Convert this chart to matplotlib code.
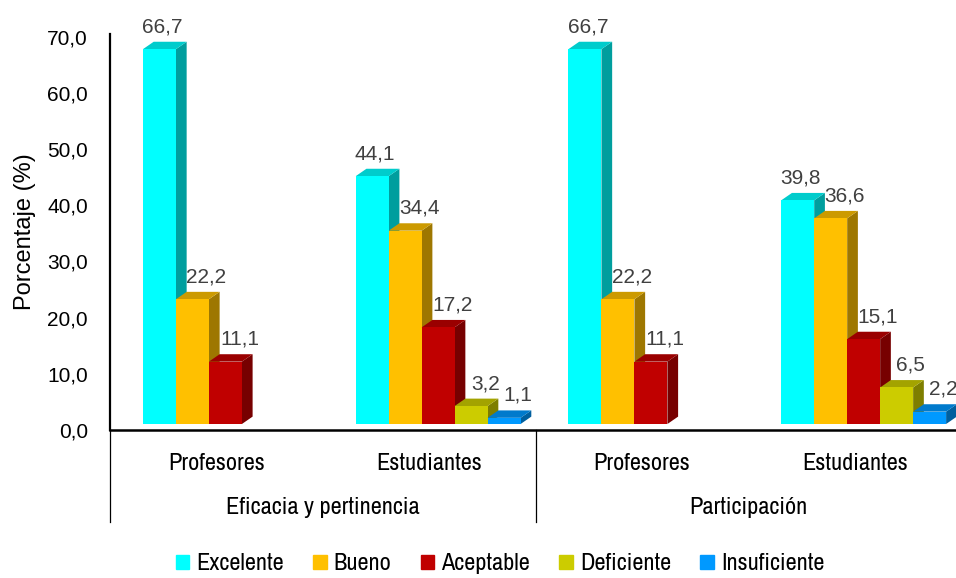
import numpy as np
import matplotlib
matplotlib.use("Agg")
import matplotlib.pyplot as plt
from matplotlib import font_manager as fm
from matplotlib.patches import Polygon, Patch
from matplotlib.transforms import ScaledTranslation, blended_transform_factory

# ---- datos ----
subgrupos = ["Profesores", "Estudiantes", "Profesores", "Estudiantes"]
dimensiones = ["Eficacia y pertinencia", "Participación"]
series = ["Excelente", "Bueno", "Aceptable", "Deficiente", "Insuficiente"]
excelente = [66.7, 44.1, 66.7, 39.8]
bueno = [22.2, 34.4, 22.2, 36.6]
aceptable = [11.1, 17.2, 11.1, 15.1]
deficiente = [np.nan, 3.2, np.nan, 6.5]
insuficiente = [np.nan, 1.1, np.nan, 2.2]
yticks = [0, 10, 20, 30, 40, 50, 60, 70]

valores = [excelente, bueno, aceptable, deficiente, insuficiente]
colores = ["#00FFFF", "#FFC000", "#C00000", "#CCCC00", "#0099FF"]


def sombra(hexcol, f):
    rgb = np.array(matplotlib.colors.to_rgb(hexcol))
    return tuple(rgb * f)


# fuentes: buscar lo que haya instalado (Arial / Arial Narrow)
ttf = fm.fontManager.ttflist
nombres = {f.name for f in ttf}
REG = next((n for n in ["Liberation Sans", "Arial", "Arimo"] if n in nombres), "DejaVu Sans")
narrow = [f.name for f in ttf if "Narrow" in f.name or "Condensed" in f.name]
if narrow:
    NARROW = dict(family=narrow[0])
else:
    NARROW = dict(family="DejaVu Sans", stretch="condensed")
plt.rcParams["font.family"] = [REG, "DejaVu Sans"]
FS_N = 17.5

fig = plt.figure(figsize=(9.56, 5.78), dpi=100)
ax = fig.add_axes([110 / 956, 148 / 578, 851 / 956, 396 / 578])
ax.set_xlim(0, 4)
ax.set_ylim(0, 396 / 5.62)

# efecto 3D: desplazamiento del piso y profundidad
base = ax.transData + ScaledTranslation(0, 6 / 100, fig.dpi_scale_trans)
w = 0.155
ddx = 10.7 / 212.75
ddy = 7.4 / 5.62

for i in range(len(subgrupos)):
    prev = None
    for j, (vals, c) in enumerate(zip(valores, colores)):
        v = vals[i]
        if np.isnan(v):
            continue
        x0 = i + w * (j + 1)
        x1 = x0 + w
        side = Polygon([(x1, 0), (x1, v), (x1 + ddx, v + ddy), (x1 + ddx, ddy)],
                       closed=True, facecolor=sombra(c, 0.62), edgecolor="none",
                       transform=base, clip_on=False)
        top = Polygon([(x0, v), (x1, v), (x1 + ddx, v + ddy), (x0 + ddx, v + ddy)],
                      closed=True, facecolor=sombra(c, 0.8), edgecolor="none",
                      transform=base, clip_on=False)
        ax.add_patch(side)
        ax.add_patch(top)
        bars = ax.bar(x0, v, width=w, align="edge", color=c, edgecolor="none")
        for b in bars:
            b.set_transform(base)
            b.set_clip_on(False)
        # etiqueta de datos
        dxl = 3 if prev is None or prev <= v else 14
        ax.annotate(f"{v:.1f}".replace(".", ","), (x0 + w / 2, v),
                    xytext=(dxl * 0.72, 23 * 0.72), textcoords="offset points",
                    ha="center", va="baseline", fontsize=15, color="#404040",
                    annotation_clip=False)
        prev = v

# ejes
for s in ["top", "right"]:
    ax.spines[s].set_visible(False)
ax.spines["left"].set_linewidth(1.6)
ax.spines["bottom"].set_linewidth(1.8)
ax.spines["left"].set_color("black")
ax.spines["bottom"].set_color("black")
ax.set_yticks(yticks)
ax.set_yticklabels([f"{t:.1f}".replace(".", ",") for t in yticks], fontsize=15)
ax.tick_params(axis="y", length=0, pad=16)
ax.set_xticks([])
fig.text(25 / 956, 1 - 232 / 578, "Porcentaje (%)", rotation=90,
         ha="center", va="center", fontsize=17)

# eje de categorías en dos niveles
bt = blended_transform_factory(ax.transData, ax.transAxes)
for xs in [0, 2, 4]:
    ax.plot([xs, xs], [0, -92 / 396], transform=bt, color="black", lw=0.9, clip_on=False)
for i, lab in enumerate(subgrupos):
    ax.text(i + 0.5, -33 / 396, lab, transform=bt, ha="center", va="center",
            fontsize=FS_N, **NARROW)
for k, lab in enumerate(dimensiones):
    ax.text(2 * k + 1, -77 / 396, lab, transform=bt, ha="center", va="center",
            fontsize=FS_N, **NARROW)

handles = [Patch(color=c, label=s) for s, c in zip(series, colores)]
leg_font = fm.FontProperties(size=FS_N, **NARROW)
fig.legend(handles=handles, loc="center", bbox_to_anchor=(500 / 956, 1 - 564 / 578),
           ncol=5, frameon=False, handlelength=0.55, handleheight=0.55,
           handletextpad=0.3, columnspacing=1.2, prop=leg_font)

fig.savefig("out.png", dpi=100)
